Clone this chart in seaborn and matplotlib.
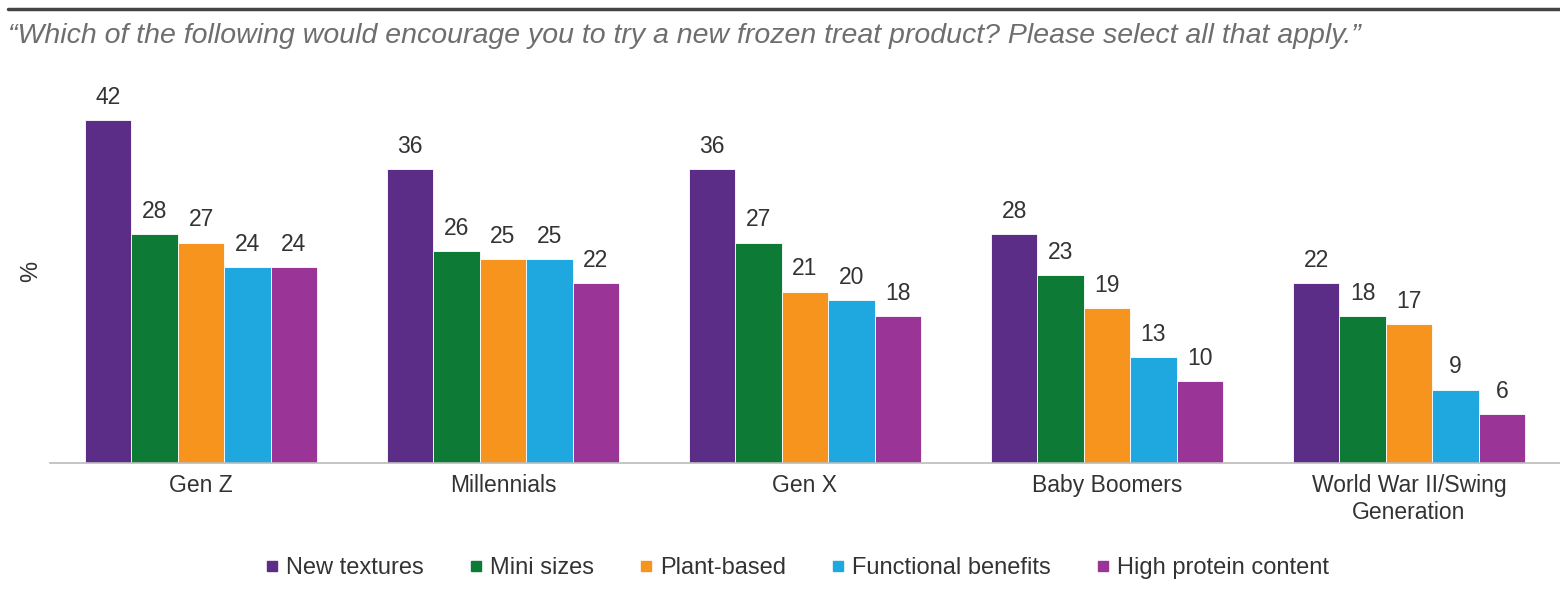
import matplotlib
matplotlib.use("Agg")
import matplotlib.pyplot as plt
import seaborn as sns
import pandas as pd
from matplotlib.lines import Line2D

# Survey data: share of respondents (%) by generation
generations = ["Gen Z", "Millennials", "Gen X", "Baby Boomers",
               "World War II/Swing\nGeneration"]
drivers = ["New textures", "Mini sizes", "Plant-based",
           "Functional benefits", "High protein content"]
new_textures = [42, 36, 36, 28, 22]
mini_sizes = [28, 26, 27, 23, 18]
plant_based = [27, 25, 21, 19, 17]
functional_benefits = [24, 25, 20, 13, 9]
high_protein = [24, 22, 18, 10, 6]

colors = ["#5b2d86", "#0d7a36", "#f7941d", "#1fa7df", "#9a3597"]

series = [new_textures, mini_sizes, plant_based, functional_benefits, high_protein]
rows = []
for name, vals in zip(drivers, series):
    for g, v in zip(generations, vals):
        rows.append({"generation": g, "driver": name, "value": v})
df = pd.DataFrame(rows)

sns.set_theme(style="white")
plt.rcParams["font.family"] = ["Liberation Sans", "DejaVu Sans"]

fig = plt.figure(figsize=(15.6, 5.95), dpi=100)
ax = fig.add_axes([50 / 1560, 1 - 463 / 595, 1 - 50 / 1560, (463 - 80) / 595])

sns.barplot(data=df, x="generation", y="value", hue="driver",
            order=generations, hue_order=drivers, palette=colors,
            width=0.768, edgecolor="white", linewidth=0.6,
            saturation=1, legend=False, ax=ax)

# value labels above each bar
for container in ax.containers:
    ax.bar_label(container, fmt="%d", padding=8, fontsize=16.5, color="#333333")

ax.set_ylim(0, 46.9)
ax.set_xlim(-0.5, 4.5 - (1567 - 1560) / 303.5)
ax.set_yticks([])
ax.set_xlabel("")
ax.set_ylabel("%", fontsize=17, color="#333333", labelpad=6)

for side in ["top", "right", "left"]:
    ax.spines[side].set_visible(False)
ax.spines["bottom"].set_color("#bbbbbb")
ax.spines["bottom"].set_linewidth(1.2)

ax.tick_params(axis="x", which="major", length=0, pad=8,
               labelsize=16.5, labelcolor="#333333")
ax.set_xticks(range(len(generations)), generations)
ax.set_xticks([i - 0.5 for i in range(len(generations) + 1)], minor=True)
ax.tick_params(axis="x", which="minor", length=4, color="#bbbbbb", width=1)

# title and top rule
fig.add_artist(Line2D([8 / 1560, 1.0], [1 - 9 / 595, 1 - 9 / 595],
                      color="#444444", linewidth=2.5))
fig.text(8 / 1560, 1 - 36 / 595,
         "\u201cWhich of the following would encourage you to try a new frozen treat product? Please select all that apply.\u201d",
         fontsize=20.5, style="italic", color="#6e6e6e", va="center", ha="left")

# legend
handles = [Line2D([0], [0], marker="s", linestyle="", markersize=7,
                  markerfacecolor=c, markeredgecolor=c) for c in colors]
fig.legend(handles, drivers, loc="center", bbox_to_anchor=(797 / 1560, 1 - 568 / 595),
           ncol=5, frameon=False, fontsize=17, handlelength=0.6,
           handletextpad=0.3, columnspacing=1.9, labelcolor="#333333")

fig.savefig("out.png", dpi=100)
